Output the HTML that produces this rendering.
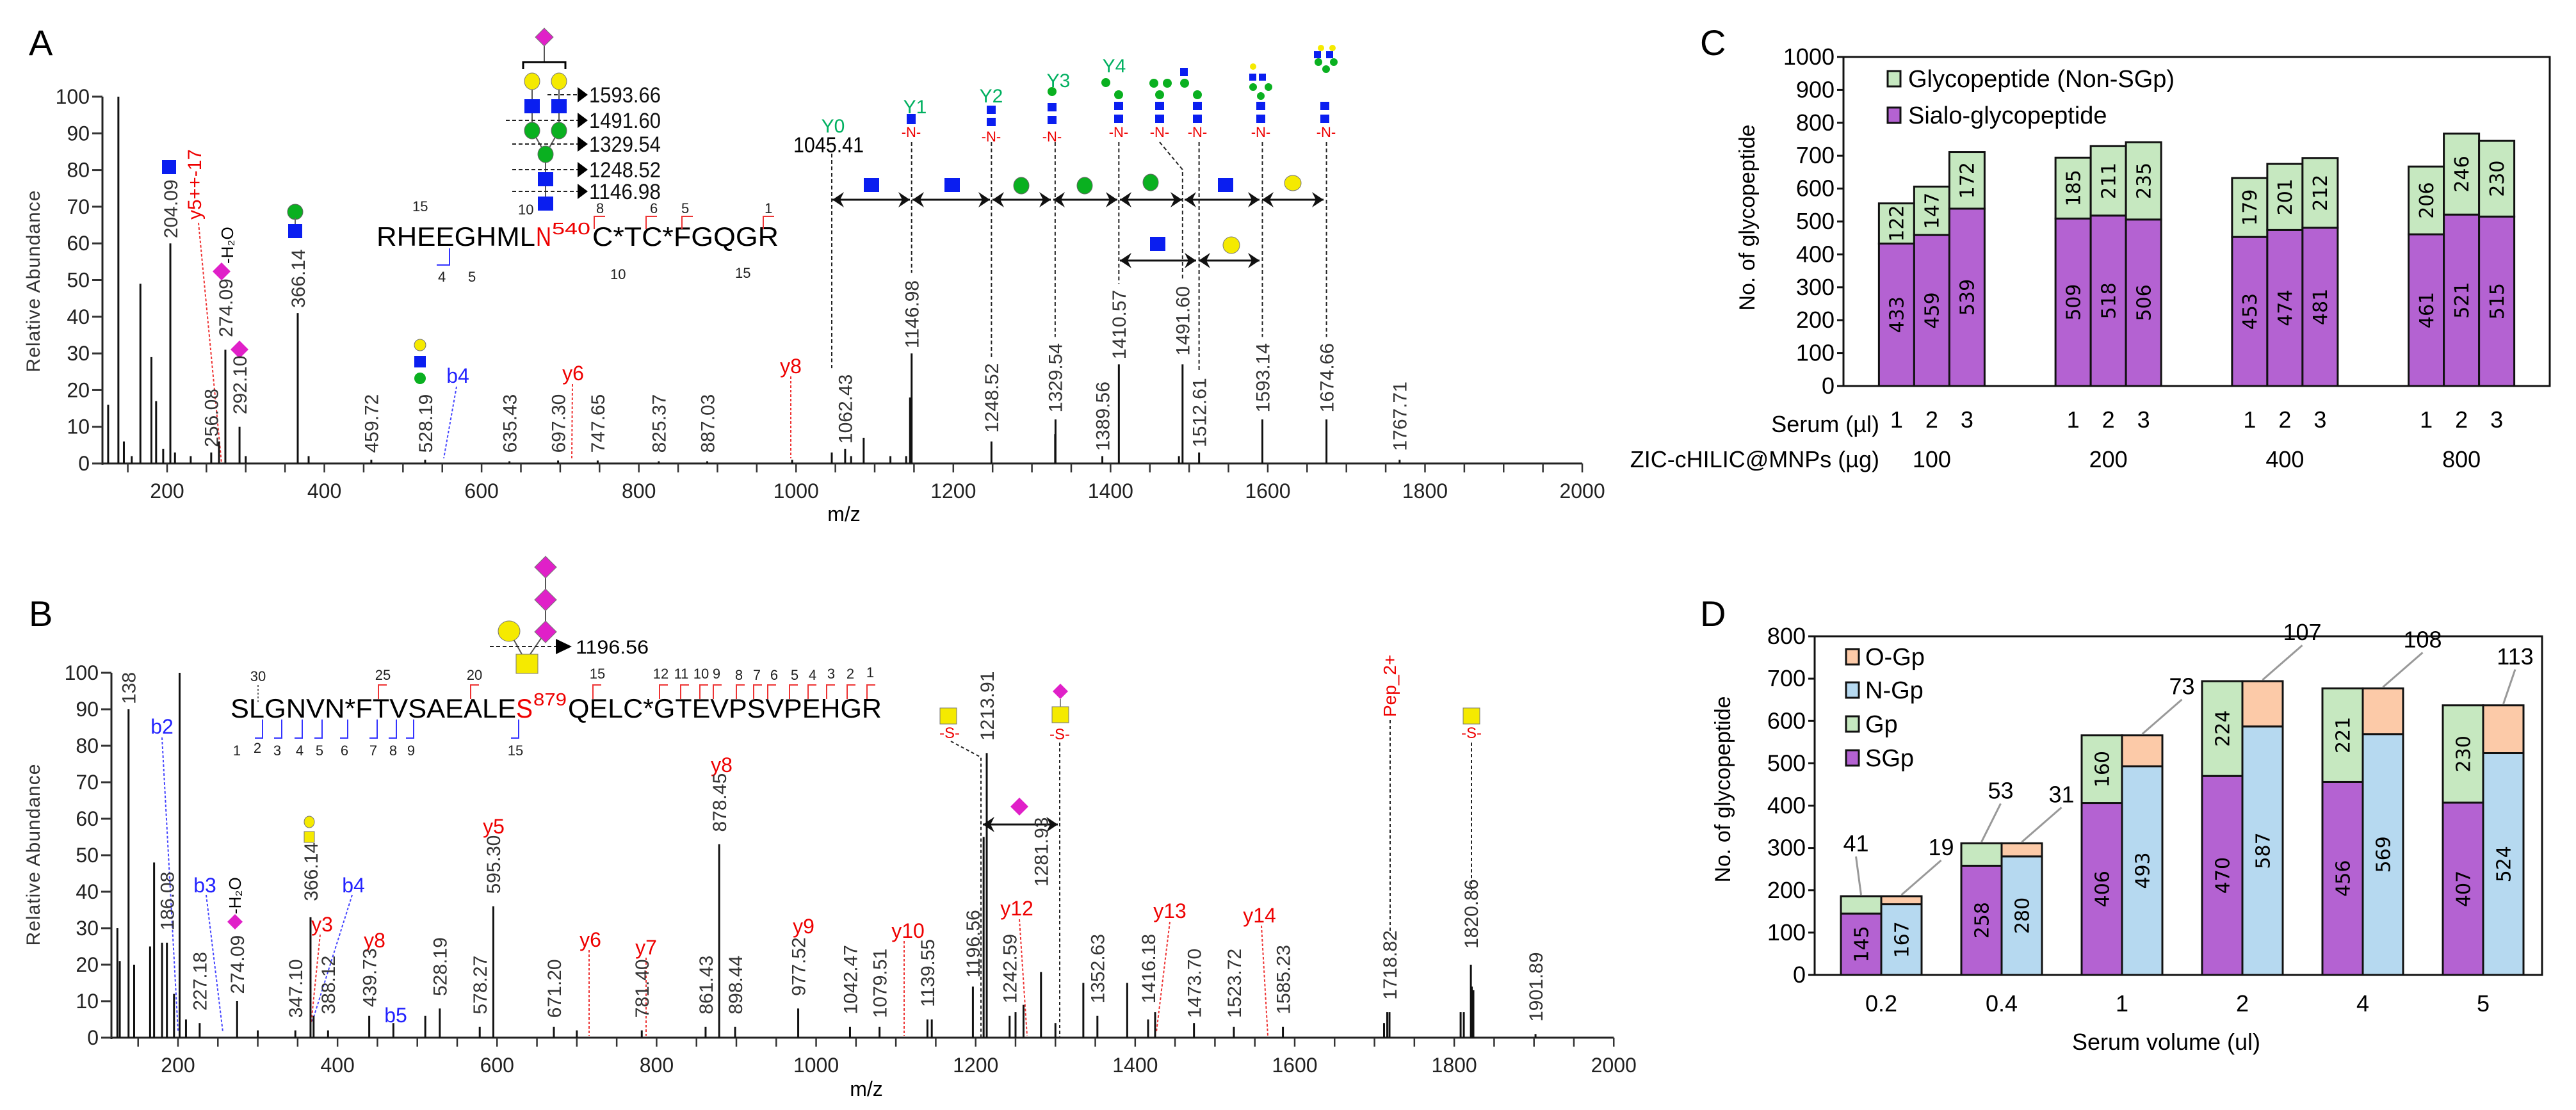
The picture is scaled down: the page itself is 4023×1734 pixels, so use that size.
<!DOCTYPE html>
<html><head><meta charset="utf-8"><title>Glycopeptide figure</title>
<style>
html,body{margin:0;padding:0;background:#fff;}
svg{display:block;font-family:"Liberation Sans",sans-serif;}
.ax{stroke:#222;stroke-width:3;fill:none}
.tk{font-size:32px;fill:#222}
.pl{font-size:30px;fill:#333}
.nar{font-family:"Liberation Sans Narrow","Liberation Sans",sans-serif}
.dj{font-family:"DejaVu Sans","Liberation Sans",sans-serif}
</style></head>
<body>
<svg id="fig" xmlns="http://www.w3.org/2000/svg" width="4023" height="1734" viewBox="0 0 4023 1734">
<rect width="4023" height="1734" fill="#fff"/>
<!-- panel letters -->
<text x="45" y="86" font-size="56" class="nar">A</text>
<text x="45" y="978" font-size="56" class="nar">B</text>
<text x="2655" y="86" font-size="56" class="nar">C</text>
<text x="2655" y="978" font-size="56" class="nar">D</text>

<!-- ===== Panel A static annotations ===== -->
<g id="annA">
 <g stroke="#555" stroke-width="2" fill="none">
  <line x1="850" y1="72" x2="850" y2="97"/><path d="M817,108 L817,97 L883,97 L883,108" stroke="#000" stroke-width="3"/>
  <line x1="831" y1="127" x2="831" y2="204"/><line x1="873" y1="127" x2="873" y2="204"/>
  <line x1="831" y1="204" x2="852" y2="241"/><line x1="873" y1="204" x2="852" y2="241"/>
  <line x1="852" y1="241" x2="852" y2="318"/>
 </g>
 <polygon points="850,44 864,58 850,72 836,58" fill="#e020c8" stroke="#777"/>
 <ellipse cx="831" cy="127" rx="12" ry="13" fill="#f5ea00" stroke="#777"/>
 <ellipse cx="873" cy="127" rx="12" ry="13" fill="#f5ea00" stroke="#777"/>
 <rect x="819" y="155" width="24" height="22" fill="#0a1ef0"/>
 <rect x="861" y="155" width="24" height="22" fill="#0a1ef0"/>
 <ellipse cx="831" cy="204" rx="12" ry="13" fill="#0ab020" stroke="#666"/>
 <ellipse cx="873" cy="204" rx="12" ry="13" fill="#0ab020" stroke="#666"/>
 <ellipse cx="852" cy="241" rx="12" ry="13" fill="#0ab020" stroke="#666"/>
 <rect x="840" y="269" width="24" height="22" fill="#0a1ef0"/>
 <rect x="840" y="307" width="24" height="22" fill="#0a1ef0"/>
 <g stroke="#222" stroke-width="2" stroke-dasharray="6,4">
  <line x1="855" y1="148" x2="902" y2="148"/><line x1="790" y1="188" x2="902" y2="188"/><line x1="800" y1="225" x2="902" y2="225"/><line x1="800" y1="265" x2="902" y2="265"/><line x1="800" y1="299" x2="902" y2="299"/>
 </g>
 <g fill="#000">
  <polygon points="902,136 918,148 902,160"/><polygon points="902,176 918,188 902,200"/><polygon points="902,213 918,225 902,237"/><polygon points="902,253 918,265 902,277"/><polygon points="902,287 918,299 902,311"/>
 </g>
 <g font-size="34" class="nar" fill="#111">
  <text x="920" y="160" textLength="112" lengthAdjust="spacingAndGlyphs">1593.66</text>
  <text x="920" y="200" textLength="112" lengthAdjust="spacingAndGlyphs">1491.60</text>
  <text x="920" y="237" textLength="112" lengthAdjust="spacingAndGlyphs">1329.54</text>
  <text x="920" y="277" textLength="112" lengthAdjust="spacingAndGlyphs">1248.52</text>
  <text x="920" y="311" textLength="112" lengthAdjust="spacingAndGlyphs">1146.98</text>
 </g>
 <!-- peptide sequence A -->
 <g font-size="42">
  <text x="588" y="384" textLength="248" lengthAdjust="spacingAndGlyphs">RHEEGHML</text>
  <text x="837" y="384" fill="#e00" textLength="24" lengthAdjust="spacingAndGlyphs">N</text>
  <text x="862" y="366" fill="#e00" font-size="26" textLength="60" lengthAdjust="spacingAndGlyphs">540</text>
  <text x="925" y="384" textLength="291" lengthAdjust="spacingAndGlyphs">C*TC*FGQGR</text>
 </g>
 <g font-size="22" class="nar" fill="#222">
  <text x="644" y="330">15</text><text x="809" y="335">10</text><text x="931" y="333">8</text><text x="1015" y="333">6</text><text x="1064" y="333">5</text><text x="1194" y="333">1</text>
  <text x="684" y="440">4</text><text x="731" y="440">5</text><text x="953" y="436">10</text><text x="1148" y="434">15</text>
 </g>
 <g stroke="#e33" stroke-width="2" fill="none">
  <path d="M928,358 L928,338 L945,338"/><path d="M1009,358 L1009,338 L1026,338"/><path d="M1065,358 L1065,338 L1082,338"/><path d="M1192,358 L1192,338 L1209,338"/>
 </g>
 <path d="M702,388 L702,414 L682,414" stroke="#33f" stroke-width="2" fill="none"/>
 <!-- Y ions -->
 <g font-size="30" class="nar" fill="#00b060">
  <text x="1301" y="207" text-anchor="middle">Y0</text><text x="1429" y="177" text-anchor="middle">Y1</text><text x="1548" y="160" text-anchor="middle">Y2</text><text x="1653" y="136" text-anchor="middle">Y3</text><text x="1740" y="113" text-anchor="middle">Y4</text>
 </g>
 <text x="1294" y="238" font-size="34" class="nar" text-anchor="middle" textLength="110" lengthAdjust="spacingAndGlyphs">1045.41</text>
 <g font-size="22" fill="#e00" text-anchor="middle">
  <text x="1423" y="214">-N-</text><text x="1548" y="221">-N-</text><text x="1643" y="221">-N-</text><text x="1747" y="214">-N-</text><text x="1811" y="214">-N-</text><text x="1870" y="214">-N-</text><text x="1969" y="214">-N-</text><text x="2071" y="214">-N-</text>
 </g>
 <g>
  <g fill="#0a1ef0">
   <rect x="1416" y="178" width="14" height="16"/>
   <rect x="1541" y="165" width="14" height="13"/><rect x="1541" y="184" width="14" height="13"/>
   <rect x="1636" y="161" width="14" height="13"/><rect x="1636" y="181" width="14" height="13"/>
   <rect x="1740" y="159" width="14" height="13"/><rect x="1740" y="179" width="14" height="13"/>
   <rect x="1804" y="159" width="14" height="13"/><rect x="1804" y="179" width="14" height="13"/>
   <rect x="1863" y="159" width="14" height="13"/><rect x="1863" y="179" width="14" height="13"/><rect x="1843" y="106" width="12" height="13"/>
   <rect x="1962" y="159" width="14" height="13"/><rect x="1962" y="179" width="14" height="13"/><rect x="1951" y="115" width="11" height="11"/><rect x="1966" y="115" width="11" height="11"/>
   <rect x="2062" y="159" width="14" height="13"/><rect x="2062" y="179" width="14" height="13"/><rect x="2052" y="80" width="11" height="11"/><rect x="2071" y="80" width="11" height="11"/>
  </g>
  <g fill="#0ab020">
   <circle cx="1643" cy="143" r="7"/><circle cx="1747" cy="148" r="7"/><circle cx="1727" cy="129" r="7"/>
   <circle cx="1811" cy="148" r="7"/><circle cx="1802" cy="130" r="7"/><circle cx="1823" cy="130" r="7"/>
   <circle cx="1870" cy="148" r="7"/><circle cx="1850" cy="130" r="7"/>
   <circle cx="1969" cy="150" r="6"/><circle cx="1957" cy="136" r="6"/><circle cx="1981" cy="136" r="6"/>
   <circle cx="2071" cy="108" r="6"/><circle cx="2059" cy="97" r="6"/><circle cx="2083" cy="97" r="6"/>
  </g>
  <g fill="#f5ea00"><circle cx="1957" cy="104" r="5"/><circle cx="2063" cy="75" r="5"/><circle cx="2081" cy="75" r="5"/></g>
 </g>
 <!-- arrows -->
 <g stroke="#111" stroke-width="3">
  <line x1="1300" y1="312" x2="1421" y2="312"/><line x1="1425" y1="312" x2="1546" y2="312"/><line x1="1550" y1="312" x2="1641" y2="312"/><line x1="1645" y1="312" x2="1745" y2="312"/><line x1="1749" y1="312" x2="1846" y2="312"/><line x1="1850" y1="312" x2="1967" y2="312"/><line x1="1971" y1="312" x2="2067" y2="312"/>
  <line x1="1749" y1="407" x2="1868" y2="407"/><line x1="1872" y1="407" x2="1967" y2="407"/>
 </g>
 <g fill="#111">
  <path d="M1300,312 l18,-12 -6,12 6,12z M1421,312 l-18,-12 6,12 -6,12z M1425,312 l18,-12 -6,12 6,12z M1546,312 l-18,-12 6,12 -6,12z M1550,312 l18,-12 -6,12 6,12z M1641,312 l-18,-12 6,12 -6,12z M1645,312 l18,-12 -6,12 6,12z M1745,312 l-18,-12 6,12 -6,12z M1749,312 l18,-12 -6,12 6,12z M1846,312 l-18,-12 6,12 -6,12z M1850,312 l18,-12 -6,12 6,12z M1967,312 l-18,-12 6,12 -6,12z M1971,312 l18,-12 -6,12 6,12z M2067,312 l-18,-12 6,12 -6,12z M1749,407 l18,-12 -6,12 6,12z M1868,407 l-18,-12 6,12 -6,12z M1872,407 l18,-12 -6,12 6,12z M1967,407 l-18,-12 6,12 -6,12z"/>
 </g>
 <g>
  <rect x="1349" y="278" width="24" height="22" fill="#0a1ef0"/><rect x="1475" y="278" width="24" height="22" fill="#0a1ef0"/>
  <ellipse cx="1595" cy="290" rx="12" ry="13" fill="#0ab020" stroke="#666"/><ellipse cx="1694" cy="290" rx="12" ry="13" fill="#0ab020" stroke="#666"/><ellipse cx="1797" cy="285" rx="12" ry="13" fill="#0ab020" stroke="#666"/>
  <rect x="1902" y="278" width="24" height="22" fill="#0a1ef0"/><ellipse cx="2019" cy="286" rx="13" ry="12" fill="#f5ea00" stroke="#777"/>
  <rect x="1796" y="370" width="24" height="22" fill="#0a1ef0"/><ellipse cx="1923" cy="383" rx="13" ry="13" fill="#f5ea00" stroke="#777"/>
 </g>
 <!-- low-mass annotations -->
 <rect x="253" y="250" width="22" height="22" fill="#0a1ef0"/>
 <text transform="translate(314,343) rotate(-90)" font-size="30" fill="#e00">y5++-17</text>
 <line x1="310" y1="348" x2="346" y2="724" stroke="#e33" stroke-width="2" stroke-dasharray="4,3"/>
 <polygon points="346,410 360,424 346,438 332,424" fill="#e020c8"/>
 <text transform="translate(364,412) rotate(-90)" font-size="26">-H₂O</text>
 <polygon points="374,532 388,546 374,560 360,546" fill="#e020c8"/>
 <circle cx="461" cy="331" r="12" fill="#0ab020" stroke="#666"/>
 <line x1="461" y1="340" x2="461" y2="352" stroke="#666" stroke-width="2"/>
 <rect x="450" y="350" width="22" height="22" fill="#0a1ef0"/>
 <g>
  <ellipse cx="656" cy="539" rx="9" ry="9" fill="#f5ea00" stroke="#777"/><rect x="647" y="556" width="18" height="18" fill="#0a1ef0"/><circle cx="656" cy="591" r="9" fill="#0ab020"/>
 </g>
 <text x="715" y="598" font-size="32" class="nar" fill="#22f" text-anchor="middle">b4</text>
 <line x1="713" y1="604" x2="693" y2="716" stroke="#44f" stroke-width="2" stroke-dasharray="4,3"/>
 <text x="895" y="594" font-size="32" class="nar" fill="#e00" text-anchor="middle">y6</text>
 <line x1="894" y1="600" x2="893" y2="716" stroke="#e33" stroke-width="2" stroke-dasharray="4,3"/>
 <text x="1235" y="583" font-size="32" class="nar" fill="#e00" text-anchor="middle">y8</text>
 <line x1="1235" y1="588" x2="1235" y2="716" stroke="#e33" stroke-width="2" stroke-dasharray="4,3"/>
</g>

<!-- ===== Panel B static annotations ===== -->
<g id="annB">
 <g stroke="#555" stroke-width="2">
  <line x1="852" y1="886" x2="852" y2="987"/><line x1="852" y1="987" x2="828" y2="1022"/><line x1="795" y1="986" x2="815" y2="1022"/>
 </g>
 <polygon points="852,869 869,886 852,903 835,886" fill="#e020c8" stroke="#777"/>
 <polygon points="852,920 869,937 852,954 835,937" fill="#e020c8" stroke="#777"/>
 <polygon points="852,970 869,987 852,1004 835,987" fill="#e020c8" stroke="#777"/>
 <ellipse cx="795" cy="986" rx="17" ry="16" fill="#f5ea00" stroke="#777"/>
 <rect x="806" y="1022" width="34" height="30" fill="#f5ea00" stroke="#777"/>
 <line x1="765" y1="1010" x2="868" y2="1010" stroke="#222" stroke-width="2" stroke-dasharray="6,4"/>
 <polygon points="868,998 893,1010 868,1022" fill="#000"/>
 <text x="899" y="1021" font-size="30" class="nar" textLength="114" lengthAdjust="spacingAndGlyphs">1196.56</text>
 <g font-size="42">
  <text x="360" y="1121" textLength="446" lengthAdjust="spacingAndGlyphs">SLGNVN*FTVSAEALE</text>
  <text x="806" y="1121" fill="#e00" textLength="26" lengthAdjust="spacingAndGlyphs">S</text>
  <text x="833" y="1102" fill="#e00" font-size="28" textLength="52" lengthAdjust="spacingAndGlyphs">879</text>
  <text x="887" y="1121" textLength="490" lengthAdjust="spacingAndGlyphs">QELC*GTEVPSVPEHGR</text>
 </g>
 <g font-size="22" class="nar" fill="#222" text-anchor="middle">
  <text x="403" y="1064">30</text><text x="598" y="1062">25</text><text x="741" y="1062">20</text><text x="933" y="1060">15</text>
  <text x="1032" y="1060">12</text><text x="1064" y="1060">11</text><text x="1095" y="1060">10</text><text x="1119" y="1060">9</text><text x="1154" y="1062">8</text><text x="1182" y="1062">7</text><text x="1209" y="1062">6</text><text x="1241" y="1062">5</text><text x="1269" y="1062">4</text><text x="1298" y="1060">3</text><text x="1328" y="1060">2</text><text x="1359" y="1058">1</text>
  <text x="370" y="1180">1</text><text x="402" y="1176">2</text><text x="433" y="1180">3</text><text x="468" y="1180">4</text><text x="499" y="1180">5</text><text x="538" y="1180">6</text><text x="583" y="1180">7</text><text x="614" y="1180">8</text><text x="642" y="1180">9</text><text x="805" y="1180">15</text>
 </g>
 <g stroke="#e33" stroke-width="2" fill="none">
  <path d="M591,1092 L591,1070 L604,1070 M735,1092 L735,1070 L748,1070 M926,1092 L926,1070 L939,1070 M1030,1092 L1030,1070 L1043,1070 M1063,1092 L1063,1070 L1076,1070 M1093,1092 L1093,1070 L1106,1070 M1114,1092 L1114,1070 L1127,1070 M1150,1092 L1150,1070 L1163,1070 M1177,1092 L1177,1070 L1190,1070 M1199,1092 L1199,1070 L1212,1070 M1233,1092 L1233,1070 L1246,1070 M1262,1092 L1262,1070 L1275,1070 M1291,1092 L1291,1070 L1304,1070 M1323,1092 L1323,1070 L1336,1070 M1354,1092 L1354,1070 L1367,1070"/>
 </g>
 <g stroke="#33f" stroke-width="2" fill="none">
  <path d="M410,1124 L410,1153 L398,1153 M440,1124 L440,1153 L428,1153 M472,1124 L472,1153 L460,1153 M503,1124 L503,1153 L491,1153 M543,1124 L543,1153 L531,1153 M589,1124 L589,1153 L577,1153 M619,1124 L619,1153 L607,1153 M646,1124 L646,1153 L634,1153 M810,1124 L810,1153 L798,1153"/>
 </g>
 <line x1="403" y1="1070" x2="403" y2="1100" stroke="#333" stroke-width="1.5" stroke-dasharray="3,3"/>
 <!-- ion labels -->
 <g font-size="32" class="nar" fill="#22f" text-anchor="middle">
  <text x="253" y="1146">b2</text><text x="320" y="1394">b3</text><text x="552" y="1394">b4</text><text x="618" y="1597">b5</text>
 </g>
 <g stroke="#44f" stroke-width="2" stroke-dasharray="4,3">
  <line x1="253" y1="1152" x2="278" y2="1610"/><line x1="322" y1="1398" x2="348" y2="1612"/><line x1="550" y1="1398" x2="487" y2="1598"/>
 </g>
 <g font-size="32" class="nar" fill="#e00" text-anchor="middle">
  <text x="503" y="1455">y3</text><text x="585" y="1480">y8</text><text x="771" y="1302">y5</text><text x="922" y="1479">y6</text><text x="1009" y="1491">y7</text><text x="1127" y="1206">y8</text><text x="1255" y="1458">y9</text><text x="1418" y="1465">y10</text><text x="1588" y="1430">y12</text><text x="1827" y="1434">y13</text><text x="1967" y="1441">y14</text>
 </g>
 <g stroke="#e33" stroke-width="2" stroke-dasharray="4,3">
  <line x1="500" y1="1460" x2="486" y2="1598"/><line x1="920" y1="1484" x2="920" y2="1618"/><line x1="1009" y1="1496" x2="1009" y2="1618"/><line x1="1412" y1="1470" x2="1412" y2="1618"/><line x1="1592" y1="1436" x2="1604" y2="1618"/><line x1="1827" y1="1440" x2="1806" y2="1612"/><line x1="1970" y1="1446" x2="1980" y2="1618"/>
 </g>
 <text transform="translate(2180,1120) rotate(-90)" font-size="28" fill="#e00">Pep_2+</text>
 <g>
  <rect x="1468" y="1106" width="26" height="25" fill="#f5ea00" stroke="#777"/>
  <text x="1483" y="1153" font-size="24" fill="#e00" text-anchor="middle">-S-</text>
  <polygon points="1656,1068 1668,1080 1656,1092 1644,1080" fill="#e020c8"/>
  <line x1="1656" y1="1092" x2="1656" y2="1104" stroke="#888" stroke-width="2"/>
  <rect x="1643" y="1104" width="26" height="25" fill="#f5ea00" stroke="#777"/>
  <text x="1655" y="1155" font-size="24" fill="#e00" text-anchor="middle">-S-</text>
  <rect x="2285" y="1106" width="26" height="25" fill="#f5ea00" stroke="#777"/>
  <text x="2298" y="1153" font-size="24" fill="#e00" text-anchor="middle">-S-</text>
 </g>
 <g stroke="#222" stroke-width="2" stroke-dasharray="5,4" fill="none">
  <path d="M1485,1158 L1532,1183 L1532,1621"/><line x1="1655" y1="1160" x2="1655" y2="1621"/><line x1="2171" y1="1125" x2="2171" y2="1460"/><line x1="2298" y1="1160" x2="2298" y2="1395"/>
 </g>
 <polygon points="1592,1246 1606,1260 1592,1274 1578,1260" fill="#e020c8"/>
 <line x1="1535" y1="1288" x2="1652" y2="1288" stroke="#111" stroke-width="3"/>
 <path d="M1535,1288 l18,-12 -6,12 6,12z M1652,1288 l-18,-12 6,12 -6,12z" fill="#111"/>
 <ellipse cx="483" cy="1284" rx="8" ry="9" fill="#f5ea00" stroke="#777"/>
 <rect x="475" y="1299" width="16" height="17" fill="#f5ea00" stroke="#777"/>
 <polygon points="367,1428 379,1440 367,1452 355,1440" fill="#e020c8"/>
 <text transform="translate(376,1428) rotate(-90)" font-size="26">-H₂O</text>
</g>

<g id="specA"></g>
<g id="specB"></g>
<g id="chartC"></g>
<g id="chartD"></g>
</svg>

<script>
// ===== Spectrum A data =====
const A_mz  = [125,138,145,155,166,180,186,195,204.09,210,230,256.08,266,274.09,292.10,300,366.14,380,459.72,528.19,635.43,697.30,747.65,825.37,887.03,995,1045.41,1062.43,1070,1086,1120,1140,1145,1146.98,1248.52,1329.54,1330,1389.56,1410.57,1487,1491.60,1512.61,1593.14,1674.66,1767.71];
const A_int = [16,100,6,2,49,29,17,4,60,3,2,3,6,31,10,2,41,2,1,1,0.6,0.8,0.8,0.6,0.6,1,3,4,2,7,2,2,18,30,6,8,12,2,27,2,27,3,12,12,1];
const A_lblMz  = [204.09,256.08,274.09,292.10,366.14,459.72,528.19,635.43,697.30,747.65,825.37,887.03,1062.43,1146.98,1248.52,1329.54,1389.56,1410.57,1491.60,1512.61,1593.14,1674.66,1767.71];
const A_lblLev = [60,3,33,12,41,1.5,1.5,1.5,1.5,1.5,1.5,1.5,4,30,7,12.5,2,27,28,3,12.5,12.5,2];
const A_xTicks = [200,400,600,800,1000,1200,1400,1600,1800,2000];
const A_yTicks = [0,10,20,30,40,50,60,70,80,90,100];
// ===== Spectrum B data =====
const B_mz  = [124,127,138,145,165,170,180,186.08,195,202,210,227.18,274.09,300,347.10,366.14,370,388.12,439.73,470,510,528.19,578.27,595.30,671.20,700,781.40,861.43,878.45,898.44,977.52,1042.47,1079.51,1139.55,1145,1196.56,1210,1213.91,1242.59,1250,1260,1281.93,1300,1335,1352.63,1390,1416.18,1425,1473.70,1523.72,1585.23,1712,1716,1718.82,1808,1812,1820.86,1822,1824,1901.89];
const B_int = [30,21,90,20,25,48,26,26,12,100,5,4,10,2,2,33,6,2,6,4,6,8,3,36,3,2,2,3,53,3,8,3,3,5,5,14,55,78,6,7,9,18,4,15,6,15,5,7,4,3,3,4,7,7,7,7,20,14,13,1];
const B_lblMz  = [138,186.08,227.18,274.09,347.10,366.14,388.12,439.73,528.19,578.27,595.30,671.20,781.40,861.43,878.45,898.44,977.52,1042.47,1079.51,1139.55,1196.56,1213.91,1242.59,1281.93,1352.63,1416.18,1473.70,1523.72,1585.23,1718.82,1820.86,1901.89];
const B_lblLev = [90,28,6,10.6,4,36,5,7,10,5,38,4,4,5,55,5,10,5,4,7,15,80,8,40,8,8,4,4,5,9,23,3];
const B_xTicks = [200,400,600,800,1000,1200,1400,1600,1800,2000];
const B_yTicks = [0,10,20,30,40,50,60,70,80,90,100];

const NS='http://www.w3.org/2000/svg';
function el(tag,parent){const e=document.createElementNS(NS,tag);parent.appendChild(e);return e;}
function at(e,o){for(const k in o)e.setAttribute(k,o[k]);return e;}

function drawSpectrum(g,cfg,mz,inten,lblMz,lblLev,xT,yT,tag){
  const x=m=>cfg.x0+(m-200)*cfg.k, y=v=>cfg.base-v*cfg.s;
  const yAxis=el('line',g); at(yAxis,{x1:cfg.axL,y1:y(100),x2:cfg.axL,y2:cfg.base+2,class:'ax'});
  
  
  const xAxis=el('line',g); at(xAxis,{x1:cfg.axL,y1:cfg.base,x2:x(2000),y2:cfg.base,class:'ax','stroke-width':4,stroke:'#444'});
  
  
  yT.forEach(v=>{
    const t=el('line',g); at(t,{x1:cfg.axL-16,y1:y(v),x2:cfg.axL,y2:y(v),stroke:'#333','stroke-width':3});
    
    
    const l=el('text',g); at(l,{x:cfg.axL-20,y:y(v)+11,'text-anchor':'end',class:'tk nar'}); l.textContent=v;
    
    
  });
  for(let m=150;m<=2000;m+=50){
    const t=el('line',g); at(t,{x1:x(m),y1:cfg.base,x2:x(m),y2:cfg.base+14,stroke:'#333','stroke-width':2.5});
    
    
  }
  xT.forEach(m=>{
    const l=el('text',g); at(l,{x:x(m),y:cfg.base+54,'text-anchor':'middle',class:'tk nar','font-size':34}); l.textContent=m;
    
    
  });
  mz.forEach((m,i)=>{
    const p=el('line',g); at(p,{x1:x(m),y1:cfg.base,x2:x(m),y2:y(inten[i]),stroke:'#111','stroke-width':3});
    
    
  });
  lblMz.forEach((m,i)=>{
    const l=el('text',g); at(l,{transform:`translate(${x(m)},${y(lblLev[i])-8}) rotate(-90)`,dy:'0.36em',class:'pl'}); l.textContent=m.toFixed(2).replace(/\.00$/,'');
    
    
  });
  const yt=el('text',g); at(yt,{transform:`translate(${cfg.ytx},${cfg.yty}) rotate(-90)`,'text-anchor':'middle','font-size':30,'letter-spacing':1,fill:'#333'}); yt.textContent='Relative Abundance';
  
  
  const xt=el('text',g); at(xt,{x:cfg.xtx,y:cfg.xty,'text-anchor':'middle','font-size':32,class:'nar'}); xt.textContent='m/z';
  
  
  return {x,y};
}
const cfgA={x0:261,k:1.2278,base:724,s:5.73,axL:160,ytx:62,yty:439,xtx:1318,xty:814};
const cfgB={x0:278,k:1.2457,base:1621,s:5.70,axL:174,ytx:62,yty:1335,xtx:1353,xty:1712};
const sA=drawSpectrum(document.getElementById('specA'),cfgA,A_mz,A_int,A_lblMz,A_lblLev,A_xTicks,A_yTicks,'a');
const sB=drawSpectrum(document.getElementById('specB'),cfgB,B_mz,B_int,B_lblMz,B_lblLev,B_xTicks,B_yTicks,'b');
// A: Y-ion dashed guide lines from annotated masses
const A_guideMz=[1045.41,1146.98,1248.52,1329.54,1410.57,1491.60,1512.61,1593.14,1674.66];
(function(){
  const g=document.getElementById('specA');
  A_guideMz.forEach((m,i)=>{
    const xx=sA.x(m); const li=A_lblMz.indexOf(m);
    const lev=li>=0?A_lblLev[li]:4; const len=m.toFixed(2).length*16;
    const y2=sA.y(lev)-8-len-6;
    const ln=el('path',g);
    const top=(i===0)?240:222;
    const d=(m===1491.60)?`M1811,222 L${xx},265 L${xx},${y2}`:`M${xx},${top} L${xx},${y2}`;
    at(ln,{d:d,stroke:'#222','stroke-width':2,'stroke-dasharray':'6,4',fill:'none'});
    
    
  });
})();

// ===== Panel C data =====
const cGroups=['100','200','400','800'];
const cSerum=['1','2','3'];
const cSGp=[433,459,539,509,518,506,453,474,481,461,521,515];
const cNonSGp=[122,147,172,185,211,235,179,201,212,206,246,230];
const cTicks=[0,100,200,300,400,500,600,700,800,900,1000];
(function(){
  const g=document.getElementById('chartC');
  const L=2879,R=3982,T=89,B=603,max=1000;
  const y=v=>B-v/max*(B-T); const gw=(R-L)/cGroups.length, bw=55;
  const frame=el('rect',g); at(frame,{x:L,y:T,width:R-L,height:B-T,fill:'none',stroke:'#111','stroke-width':3});
  
  
  cTicks.forEach(v=>{
    const t=el('line',g); at(t,{x1:L-10,y1:y(v),x2:L,y2:y(v),stroke:'#111','stroke-width':3});
    
    
    const l=el('text',g); at(l,{x:L-14,y:y(v)+12,'text-anchor':'end','font-size':36,class:'nar'}); l.textContent=v;
    
    
  });
  cGroups.forEach((gname,gi)=>{
    const cx=L+(gi+0.5)*gw;
    cSerum.forEach((s,si)=>{
      const i=gi*cSerum.length+si; const x=cx+(si-1)*bw-bw/2;
      const b1=el('rect',g); at(b1,{x:x,y:y(cSGp[i]),width:bw,height:y(0)-y(cSGp[i]),fill:'#b462d2',stroke:'#111','stroke-width':3});
      
      
      const top=cSGp[i]+cNonSGp[i];
      const b2=el('rect',g); at(b2,{x:x,y:y(top),width:bw,height:y(cSGp[i])-y(top),fill:'#c6e8c0',stroke:'#111','stroke-width':3});
      
      
      const l1=el('text',g); at(l1,{transform:`translate(${x+bw/2},${y(cSGp[i]/2)}) rotate(-90)`,'text-anchor':'middle',dy:'0.36em','font-size':30,class:'dj'}); l1.textContent=cSGp[i];
      
      
      const l2=el('text',g); at(l2,{transform:`translate(${x+bw/2},${y(cSGp[i]+cNonSGp[i]/2)}) rotate(-90)`,'text-anchor':'middle',dy:'0.36em','font-size':30,class:'dj'}); l2.textContent=cNonSGp[i];
      
      
      const sl=el('text',g); at(sl,{x:cx+(si-1)*bw,y:668,'text-anchor':'middle','font-size':36,class:'nar'}); sl.textContent=s;
      
      
    });
    const gl=el('text',g); at(gl,{x:cx,y:730,'text-anchor':'middle','font-size':36,class:'nar'}); gl.textContent=gname;
    
    
  });
  const r1=el('text',g); at(r1,{x:2935,y:675,'text-anchor':'end','font-size':36,class:'nar'}); r1.textContent='Serum (µl)';
  
  
  const r2=el('text',g); at(r2,{x:2935,y:730,'text-anchor':'end','font-size':36,class:'nar'}); r2.textContent='ZIC-cHILIC@MNPs (µg)';
  
  
  const yt=el('text',g); at(yt,{transform:'translate(2740,340) rotate(-90)','text-anchor':'middle','font-size':34}); yt.textContent='No. of glycopeptide';
  
  
  [['Glycopeptide (Non-SGp)','#c6e8c0',123],['Sialo-glycopeptide','#b462d2',180]].forEach(d=>{
    const s=el('rect',g); at(s,{x:2948,y:d[2]-12,width:20,height:24,fill:d[1],stroke:'#111','stroke-width':3});
    
    
    const t=el('text',g); at(t,{x:2980,y:d[2]+13,'font-size':38,class:'nar'}); t.textContent=d[0];
    
    
  });
})();

// ===== Panel D data =====
const dCats=['0.2','0.4','1','2','4','5'];
const dSGp=[145,258,406,470,456,407];
const dGp=[41,53,160,224,221,230];
const dNGp=[167,280,493,587,569,524];
const dOGp=[19,31,73,107,108,113];
const dTicks=[0,100,200,300,400,500,600,700,800];
(function(){
  const g=document.getElementById('chartD');
  const L=2834,R=3970,T=994,B=1523,max=800;
  const y=v=>B-v/max*(B-T); const step=188, c0=2938, bw=63;
  const frame=el('rect',g); at(frame,{x:L,y:T,width:R-L,height:B-T,fill:'none',stroke:'#111','stroke-width':3});
  
  
  dTicks.forEach(v=>{
    const t=el('line',g); at(t,{x1:L-10,y1:y(v),x2:L,y2:y(v),stroke:'#111','stroke-width':3});
    
    
    const l=el('text',g); at(l,{x:L-14,y:y(v)+12,'text-anchor':'end','font-size':36,class:'nar'}); l.textContent=v;
    
    
  });
  function seg(x,v0,v1,fill,name){
    const r=el('rect',g); at(r,{x:x,y:y(v1),width:bw,height:y(v0)-y(v1),fill:fill,stroke:'#111','stroke-width':3});
    
    
  }
  function vlab(x,v,val,name){
    const l=el('text',g); at(l,{transform:`translate(${x},${y(v)}) rotate(-90)`,'text-anchor':'middle',dy:'0.36em','font-size':30,class:'dj'}); l.textContent=val;
    
    
  }
  function callout(bx,by,lx,ly,val,name){
    const ln=el('line',g); at(ln,{x1:bx,y1:by-2,x2:lx,y2:ly+8,stroke:'#999','stroke-width':3});
    
    
    const t=el('text',g); at(t,{x:lx,y:ly,'text-anchor':'middle','font-size':36,class:'nar'}); t.textContent=val;
    
    
  }
  dCats.forEach((c,i)=>{
    const cx=c0+i*step, xl=cx-bw, xr=cx;
    seg(xl,0,dSGp[i],'#b462d2','bar-sgp');
    seg(xl,dSGp[i],dSGp[i]+dGp[i],'#c6e8c0','bar-gp');
    seg(xr,0,dNGp[i],'#b6d9f0','bar-n-gp');
    seg(xr,dNGp[i],dNGp[i]+dOGp[i],'#fccaa8','bar-o-gp');
    vlab(xl+bw/2,dSGp[i]/2,dSGp[i],'value-label-sgp');
    vlab(xr+bw/2,dNGp[i]/2,dNGp[i],'value-label-n-gp');
    const gTop=y(dSGp[i]+dGp[i]);
    if(dGp[i]>=100) vlab(xl+bw/2,dSGp[i]+dGp[i]/2,dGp[i],'value-label-gp');
    else callout(xl+bw/2,gTop,xl+bw/2+(i===0?-8:30),gTop-70,dGp[i],'value-label-gp');
    const oTop=y(dNGp[i]+dOGp[i]);
    const lx=Math.min(xr+bw/2+62,3928);
    callout(xr+bw/2,oTop,lx,oTop-64,dOGp[i],'value-label-o-gp');
    const xl2=el('text',g); at(xl2,{x:cx,y:1580,'text-anchor':'middle','font-size':36,class:'nar'}); xl2.textContent=c;
    
    
  });
  const xt=el('text',g); at(xt,{x:3383,y:1640,'text-anchor':'middle','font-size':36,class:'nar'}); xt.textContent='Serum volume (ul)';
  
  
  const yt=el('text',g); at(yt,{transform:'translate(2702,1233) rotate(-90)','text-anchor':'middle','font-size':34}); yt.textContent='No. of glycopeptide';
  
  
  [['O-Gp','#fccaa8',1026],['N-Gp','#b6d9f0',1078],['Gp','#c6e8c0',1131],['SGp','#b462d2',1184]].forEach(d=>{
    const s=el('rect',g); at(s,{x:2883,y:d[2]-12,width:20,height:24,fill:d[1],stroke:'#111','stroke-width':3});
    
    
    const t=el('text',g); at(t,{x:2913,y:d[2]+13,'font-size':38,class:'nar'}); t.textContent=d[0];
    
    
  });
})();
</script>
</body></html>
